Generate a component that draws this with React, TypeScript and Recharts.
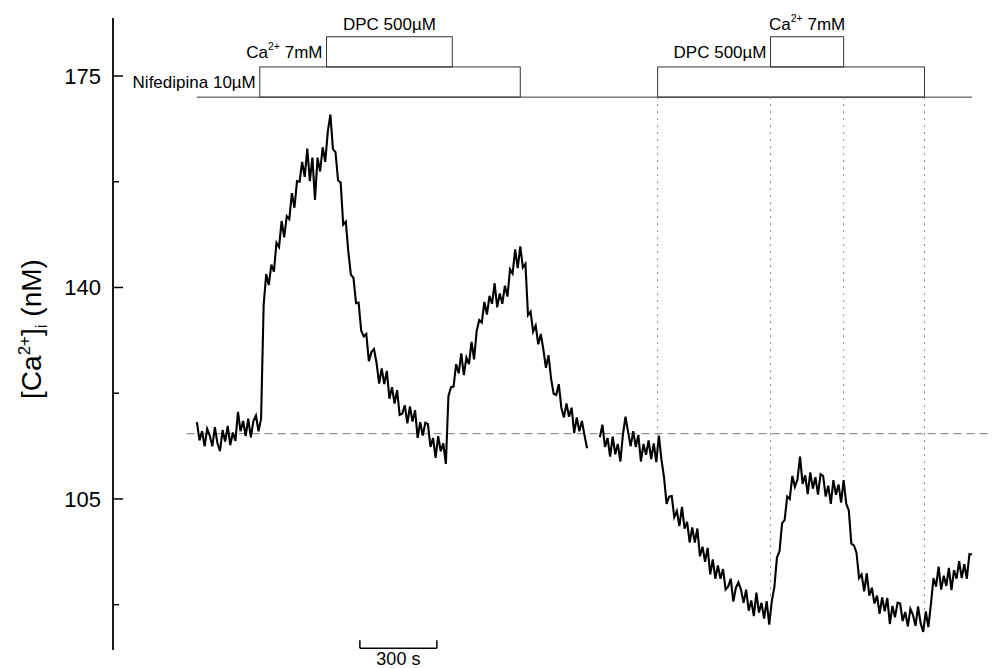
import React from 'react';
import { ComposedChart, Line, XAxis, YAxis, ReferenceLine, ReferenceArea } from 'recharts';

// [Ca2+]i trace sampled every 10 s, in nM (null = recording gap)
const SAMPLE_SECONDS = 10;
const caTrace: (number | null)[] = [
  117.7, 114.7, 116.2, 113.7, 116.6, 115.5, 113.7, 116.9, 114.2, 112.9,
  116.4, 114.5, 117.1, 113.9, 116.0, 114.6, 119.4, 116.2, 117.9, 115.4,
  118.3, 115.2, 117.9, 118.8, 116.2, 118.3, 137.1, 142.2, 140.4, 143.8,
  142.6, 147.4, 146.7, 151.0, 148.3, 151.8, 151.3, 155.6, 153.2, 157.6,
  157.5, 160.8, 158.3, 163.0, 157.6, 161.5, 154.5, 161.5, 159.2, 163.2,
  160.8, 165.8, 168.6, 162.9, 162.4, 157.7, 157.4, 150.4, 150.9, 145.9,
  142.1, 141.6, 137.4, 137.5, 132.9, 131.9, 132.3, 127.8, 129.3, 129.8,
  127.5, 124.1, 126.6, 124.0, 126.2, 121.6, 123.5, 120.8, 123.0, 118.9,
  119.1, 120.5, 117.5, 120.3, 117.8, 119.7, 115.1, 117.7, 115.5, 117.6,
  117.4, 113.6, 115.1, 111.8, 115.4, 112.9, 114.2, 110.8, 122.0, 123.5,
  123.6, 127.3, 125.8, 129.1, 125.5, 128.4, 127.3, 131.0, 128.1, 132.8,
  134.6, 134.2, 137.6, 135.5, 138.6, 137.3, 140.7, 136.7, 139.0, 137.3,
  140.3, 138.5, 143.0, 142.3, 146.3, 143.2, 146.8, 143.3, 143.9, 135.4,
  136.0, 132.7, 133.7, 130.6, 132.3, 129.7, 126.7, 128.8, 124.9, 122.4,
  122.2, 124.0, 120.1, 118.5, 120.8, 118.6, 120.1, 115.9, 118.5, 116.2,
  117.9, 115.6, 113.4,
  null, null, null, null,
  115.2, 117.3, 113.6, 115.1, 112.0, 115.3, 112.4, 114.1, 111.2, 115.7,
  118.6, 116.1, 113.7, 116.2, 113.6, 115.6, 111.2, 114.1, 112.3, 114.7,
  111.6, 114.2, 111.1, 115.5, 111.5,
  108.6, 104.2, 105.4, 105.5, 102.0, 103.0, 100.5, 103.7, 100.1, 101.2,
  97.8, 100.3, 97.8, 100.1, 95.5, 97.1, 94.6, 96.9, 92.5, 95.0,
  91.8, 94.0, 91.8, 93.4, 90.0, 90.5, 91.8, 88.0, 90.3, 91.2,
  90.0, 87.8, 90.0, 86.5, 88.2, 85.6, 89.5, 86.2, 87.8, 85.2,
  88.1, 84.2,
  88.1, 90.4, 95.3, 96.3, 101.0, 101.5, 105.4, 105.0, 108.8, 107.0,
  108.2, 112.0, 107.5, 108.9, 105.8, 109.4, 106.7, 108.6, 105.7, 109.1,
  108.8, 105.4, 107.2, 104.2, 108.1, 105.7, 107.4, 104.4, 108.1, 104.2,
  103.1, 97.6, 97.3, 96.1, 91.9, 92.5, 89.7, 92.7, 89.0, 90.3,
  87.7, 89.0, 86.0, 88.7, 86.4, 88.6, 84.3, 87.3, 85.4, 87.8,
  87.7, 84.8, 86.3, 83.9, 86.8, 85.8, 84.0, 87.2, 84.4, 83.0,
  86.4, 83.8,
  87.6, 91.9, 90.5, 93.8, 90.0, 92.3, 90.6, 93.6, 89.9, 93.2,
  91.8, 94.7, 91.9, 94.2, 91.8, 95.9, 95.8,
];

const yTicks = [87.5, 105, 122.5, 140, 157.5, 175];
const yLabeledTicks = [105, 140, 175];
const restingLevel = 115.8;

// protocol bars (seconds from start of trace); levels in nM units of the plot
const protocolLevels = [171.5, 176.5, 181.5];
const protocolEnd = 3020;
const lowerBoxes = [
  { start: 245, end: 1260, left: 'Nifedipina 10µM' },
  { start: 1795, end: 2835, left: '' },
];
const upperBoxes = [
  { start: 505, end: 995, left: 'Ca^2+^ 7mM', top: 'DPC 500µM' },
  { start: 2235, end: 2520, left: 'DPC 500µM', top: 'Ca^2+^ 7mM' },
];
const markerTimes = [1795, 2235, 2520, 2835];
const scaleBar = { start: 635, end: 935, level: 80.3, tick: 1.3, label: '300 s' };

const xDomain = [-327, 3098];
const yDomain = [80, 184.6];

const FONT = 'Arial, "Liberation Sans", sans-serif';

const data = caTrace.map((v, i) => ({ t: i * SAMPLE_SECONDS, ca: v }));

function RichText({ text, x, y, anchor, size }: { text: string; x: number; y: number; anchor: string; size: number }) {
  const parts = text.split('^');
  return (
    <text x={x} y={y} textAnchor={anchor} fontSize={size} fontFamily={FONT} fill="#000">
      {parts.map((p, i) =>
        i % 2 === 1 ? (
          <tspan key={i} dy={-size * 0.45} fontSize={size * 0.62}>{p}</tspan>
        ) : (
          <tspan key={i} dy={i > 0 ? size * 0.45 : 0}>{p}</tspan>
        )
      )}
    </text>
  );
}

function BoxLabel(props: any) {
  const vb = props.viewBox || {};
  const { text, side } = props;
  if (!text) return null;
  if (side === 'left') {
    return <RichText text={text} x={vb.x - 4} y={vb.y + vb.height / 2 + 6} anchor="end" size={17} />;
  }
  return <RichText text={text} x={vb.x + vb.width / 2} y={vb.y - 7} anchor="middle" size={17} />;
}

function TopBoxLabels(props: any) {
  return (
    <g>
      <BoxLabel viewBox={props.viewBox} text={props.left} side="left" />
      <BoxLabel viewBox={props.viewBox} text={props.top} side="top" />
    </g>
  );
}

function ScaleLabel(props: any) {
  const vb = props.viewBox || {};
  return (
    <text x={vb.x + vb.width / 2} y={vb.y + 17} textAnchor="middle" fontSize={18} fontFamily={FONT} fill="#000">
      {props.text}
    </text>
  );
}

function CaTick(props: any) {
  const { x, y, payload } = props;
  const major = yLabeledTicks.includes(payload.value);
  return (
    <g>
      <line x1={x} x2={x + (major ? 10 : 6)} y1={y} y2={y} stroke="#000" strokeWidth={1.5} />
      {major && (
        <text x={x - 12} y={y} dy={8} textAnchor="end" fontSize={22} fontFamily={FONT} fill="#000">
          {payload.value}
        </text>
      )}
    </g>
  );
}

function YLabel(props: any) {
  const vb = props.viewBox || { x: 0, y: 18, width: 113, height: 632 };
  const cx = vb.x + 41;
  const cy = vb.y + vb.height / 2 - 5;
  return (
    <text transform={`translate(${cx},${cy}) rotate(-90)`} textAnchor="middle" fontSize={28} fontFamily={FONT} fill="#000">
      <tspan>[Ca</tspan>
      <tspan dy={-11} fontSize={17}>2+</tspan>
      <tspan dy={11}>]</tspan>
      <tspan dy={6} fontSize={17}>i</tspan>
      <tspan dy={-6}> (nM)</tspan>
    </text>
  );
}

export default function App() {
  return (
    <div style={{ position: 'absolute', left: 0, top: 0, width: 992, height: 668, background: '#fff' }}>
      <ComposedChart width={992} height={668} data={data} margin={{ top: 18, right: 0, bottom: 18, left: 0 }}>
        <XAxis type="number" dataKey="t" domain={xDomain} hide />
        <YAxis
          type="number"
          domain={yDomain}
          ticks={yTicks}
          width={113}
          tickSize={0}
          tickMargin={0}
          tickLine={false}
          axisLine={{ stroke: '#000', strokeWidth: 1.8 }}
          tick={<CaTick />}
          interval={0}
          label={<YLabel />}
          allowDataOverflow
        />

        {/* protocol baseline and boxes */}
        <ReferenceLine
          segment={[{ x: 0, y: protocolLevels[0] }, { x: protocolEnd, y: protocolLevels[0] }]}
          stroke="#333"
          strokeWidth={1}
        />
        {lowerBoxes.map((b, i) => (
          <ReferenceArea
            key={'lo' + i}
            x1={b.start}
            x2={b.end}
            y1={protocolLevels[0]}
            y2={protocolLevels[1]}
            fill="none"
            stroke="#333"
            strokeWidth={1}
            label={<BoxLabel text={b.left} side="left" />}
          />
        ))}
        {upperBoxes.map((b, i) => (
          <ReferenceArea
            key={'up' + i}
            x1={b.start}
            x2={b.end}
            y1={protocolLevels[1]}
            y2={protocolLevels[2]}
            fill="none"
            stroke="#333"
            strokeWidth={1}
            label={<TopBoxLabels left={b.left} top={b.top} />}
          />
        ))}

        {/* solution change markers */}
        {markerTimes.map((t, i) => (
          <ReferenceLine
            key={'m' + i}
            segment={[{ x: t, y: protocolLevels[0] }, { x: t, y: caTrace[Math.round(t / SAMPLE_SECONDS)] as number }]}
            stroke="#888"
            strokeWidth={1}
            strokeDasharray="2 5"
          />
        ))}

        {/* resting level */}
        <ReferenceLine
          segment={[{ x: -40, y: restingLevel }, { x: xDomain[1], y: restingLevel }]}
          stroke="#777"
          strokeWidth={1}
          strokeDasharray="8 5"
        />

        {/* time scale bar */}
        <ReferenceLine
          segment={[{ x: scaleBar.start, y: scaleBar.level }, { x: scaleBar.end, y: scaleBar.level }]}
          stroke="#000"
          strokeWidth={1.5}
          label={<ScaleLabel text={scaleBar.label} />}
        />
        <ReferenceLine
          segment={[{ x: scaleBar.start, y: scaleBar.level }, { x: scaleBar.start, y: scaleBar.level + scaleBar.tick }]}
          stroke="#000"
          strokeWidth={1.5}
        />
        <ReferenceLine
          segment={[{ x: scaleBar.end, y: scaleBar.level }, { x: scaleBar.end, y: scaleBar.level + scaleBar.tick }]}
          stroke="#000"
          strokeWidth={1.5}
        />

        <Line
          type="linear"
          dataKey="ca"
          stroke="#000"
          strokeWidth={2.1}
          strokeLinejoin="miter"
          dot={false}
          connectNulls={false}
          isAnimationActive={false}
        />
      </ComposedChart>
    </div>
  );
}
